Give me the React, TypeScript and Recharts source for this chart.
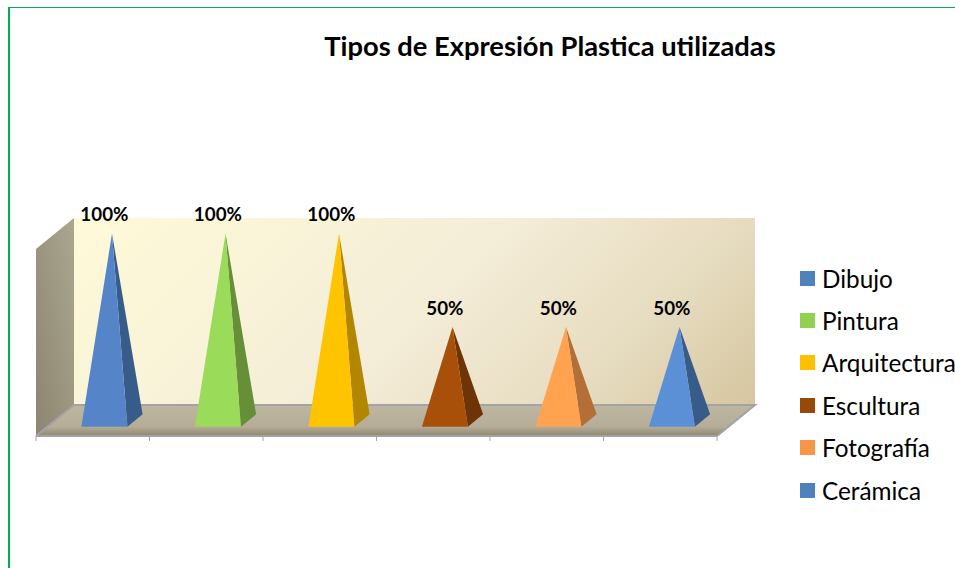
import { BarChart, Bar, XAxis, YAxis, Legend, LabelList, Customized } from "recharts";

const categories = ["Dibujo", "Pintura", "Arquitectura", "Escultura", "Fotografía", "Cerámica"];
const percentages = [100, 100, 100, 50, 50, 50];
const frontColors = ["#5585C8", "#9ADB5A", "#FFC400", "#A84F0A", "#FFA350", "#5B90D6"];
const sideColors = ["#375C8A", "#668F38", "#B38600", "#6F3405", "#B36F35", "#375C8A"];
const legendColors = ["#4F81BD", "#92D050", "#FFC000", "#984807", "#F79646", "#4F81BD"];

const data = categories.map((name, i) => ({ name, value: percentages[i] }));

const WIDTH = 955;
const HEIGHT = 568;
const LEFT = 36;
const RIGHT = 717;
const TOP = 249;
const BOTTOM = 436;
const DEPTH_X = 38;
const DEPTH_Y = 31;
const STEP = (RIGHT - LEFT) / categories.length;
const FONT = "Lato, 'Open Sans', sans-serif";

function Backdrop() {
  const backX = LEFT + DEPTH_X;
  const backRight = RIGHT + DEPTH_X;
  const backBottom = BOTTOM - DEPTH_Y;
  const backTop = TOP - DEPTH_Y;
  return (
    <g>
      <defs>
        <linearGradient id="backWall" gradientUnits="userSpaceOnUse" x1={74} y1={218} x2={508} y2={652}>
          <stop offset="0%" stopColor="#FFFAD8" />
          <stop offset="50%" stopColor="#F4EDD8" />
          <stop offset="78%" stopColor="#E6DCC0" />
          <stop offset="100%" stopColor="#D6C6A0" />
        </linearGradient>
        <linearGradient id="sideWall" x1="0" y1="1" x2="1" y2="0">
          <stop offset="0%" stopColor="#8C8570" />
          <stop offset="100%" stopColor="#ABA78F" />
        </linearGradient>
        <linearGradient id="floor" x1="0" y1="0" x2="0" y2="1">
          <stop offset="0%" stopColor="#BDB6A1" />
          <stop offset="70%" stopColor="#B5AD97" />
          <stop offset="100%" stopColor="#8F8672" />
        </linearGradient>
      </defs>
      <text x={550} y={56} textAnchor="middle" fontFamily={FONT} fontWeight={700} fontSize={27.3} fill="#000">
        Tipos de Expresión Plastica utilizadas
      </text>
      <polygon points={`${backX},${backTop} ${backRight},${backTop} ${backRight},${backBottom} ${backX},${backBottom}`} fill="url(#backWall)" />
      <polygon points={`${LEFT},${TOP} ${backX},${backTop} ${backX},${backBottom} ${LEFT},${BOTTOM}`} fill="url(#sideWall)" />
      <polygon points={`${LEFT},${BOTTOM} ${backX},${backBottom} ${backRight},${backBottom} ${RIGHT},${BOTTOM}`} fill="url(#floor)" />
      <polyline
        points={`${LEFT},${BOTTOM} ${backX},${backBottom} ${backRight},${backBottom} ${RIGHT},${BOTTOM}`}
        fill="none"
        stroke="#A3A3A3"
        strokeWidth={2}
      />
    </g>
  );
}

// pyramid standing in the middle of the floor depth
function Pyramid(props: any) {
  const { x, y, width, height, index } = props;
  const floor = y + height;
  const apexX = x + width / 2 + DEPTH_X / 2;
  const apexY = y - DEPTH_Y / 2;
  const frontLeft = x + DEPTH_X * 0.3;
  const frontRight = frontLeft + width;
  const frontY = floor - DEPTH_Y * 0.3;
  const backRight = x + width + DEPTH_X * 0.7;
  const backY = floor - DEPTH_Y * 0.7;
  return (
    <g>
      <polygon points={`${apexX},${apexY} ${frontRight},${frontY} ${backRight},${backY}`} fill={sideColors[index]} />
      <polygon points={`${apexX},${apexY} ${frontLeft},${frontY} ${frontRight},${frontY}`} fill={frontColors[index]} />
    </g>
  );
}

function PercentLabel(props: any) {
  const { x, y, width, value } = props;
  return (
    <text
      x={x + width / 2 + DEPTH_X * 0.3}
      y={y - 28}
      textAnchor="middle"
      fontFamily={FONT}
      fontWeight={700}
      fontSize={18.8}
      fill="#000"
    >
      {value}%
    </text>
  );
}

function BoundaryTick(props: any) {
  const { x, index } = props;
  const left = x - STEP / 2;
  return (
    <g stroke="#A6A6A6" strokeWidth={1}>
      <line x1={left} x2={left} y1={BOTTOM} y2={BOTTOM + 5} />
      {index === categories.length - 1 && <line x1={left + STEP} x2={left + STEP} y1={BOTTOM} y2={BOTTOM + 5} />}
    </g>
  );
}

function LegendList() {
  return (
    <div style={{ fontFamily: FONT, fontSize: 24.3, color: "#000" }}>
      {categories.map((name, i) => (
        <div key={name} style={{ display: "flex", alignItems: "center", height: 42.4, whiteSpace: "nowrap" }}>
          <span style={{ width: 15, height: 15, background: legendColors[i], marginRight: 7, flex: "none" }} />
          {name}
        </div>
      ))}
    </div>
  );
}

export default function App() {
  return (
    <div style={{ position: "absolute", left: 0, top: 0, width: WIDTH, height: HEIGHT, overflow: "hidden", background: "#fff" }}>
      <div style={{ position: "absolute", left: 8, top: 7, width: WIDTH, height: HEIGHT, borderLeft: "2px solid #00B050", borderTop: "1px solid #00B050" }} />
      <BarChart
        width={WIDTH}
        height={HEIGHT}
        data={data}
        barSize={46}
        style={{ position: "absolute", left: 0, top: 0 }}
        margin={{ top: TOP, right: WIDTH - RIGHT, bottom: 0, left: LEFT }}
      >
        <Customized component={Backdrop} />
        <XAxis dataKey="name" stroke="#A3A3A3" strokeWidth={2} tickLine={false} tick={BoundaryTick} height={HEIGHT - BOTTOM} interval={0} />
        <YAxis hide domain={[0, 100]} />
        <Legend
          layout="horizontal"
          verticalAlign="middle"
          align="center"
          content={LegendList}
          wrapperStyle={{ left: 800, top: 257, width: 155, height: 255, bottom: "auto", right: "auto", margin: 0 }}
        />
        <Bar dataKey="value" shape={Pyramid} isAnimationActive={false}>
          <LabelList dataKey="value" content={PercentLabel} />
        </Bar>
      </BarChart>
    </div>
  );
}
